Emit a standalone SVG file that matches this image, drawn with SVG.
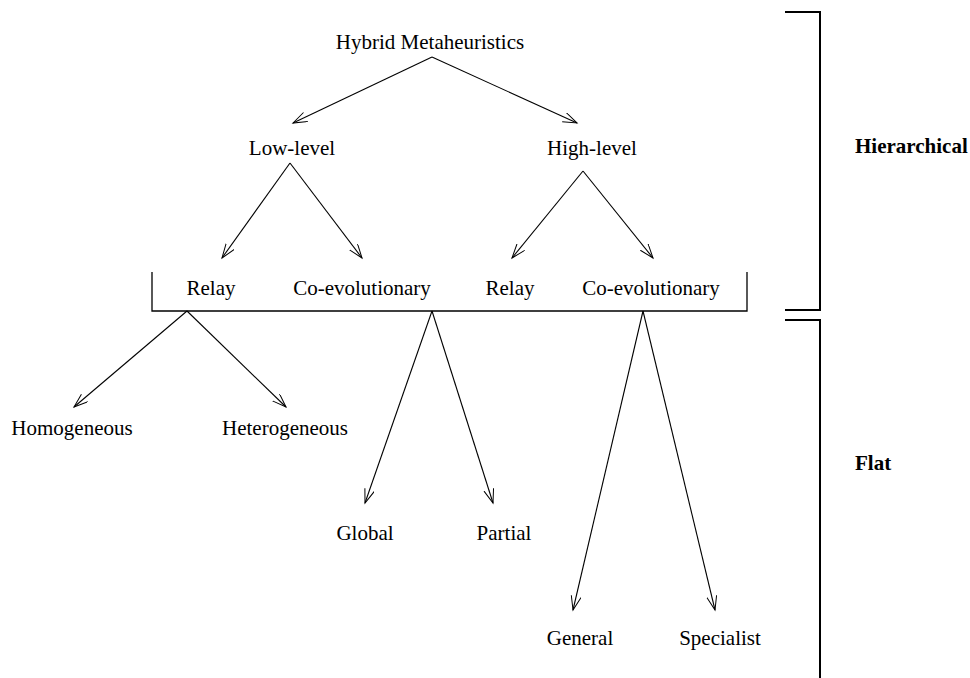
<svg xmlns="http://www.w3.org/2000/svg" width="970" height="678" viewBox="0 0 970 678">
<defs>
<marker id="ah" markerUnits="userSpaceOnUse" markerWidth="16" markerHeight="12" refX="14" refY="5" orient="auto">
<path d="M0,0 L14,5 L0,10" fill="none" stroke="#000" stroke-width="1"/>
</marker>
<style>
text{font-family:"Liberation Serif","Times New Roman",serif;font-size:21px;fill:#000}
.b{font-weight:bold}
.c{text-anchor:middle}
.e{stroke:#000;stroke-width:1.1;fill:none;marker-end:url(#ah)}
.l{stroke:#000;stroke-width:1.3;fill:none}
.k{stroke:#000;stroke-width:2;fill:none}
</style>
</defs>
<rect width="970" height="678" fill="#fff"/>
<g id="connectors">
<line class="e" x1="432" y1="57" x2="293" y2="123"/>
<line class="e" x1="432" y1="57" x2="577" y2="123"/>
<line class="e" x1="290" y1="163" x2="222" y2="258"/>
<line class="e" x1="290" y1="163" x2="362" y2="258"/>
<line class="e" x1="583" y1="171" x2="512" y2="258"/>
<line class="e" x1="583" y1="171" x2="653" y2="258"/>
<line class="e" x1="187" y1="311" x2="74" y2="407"/>
<line class="e" x1="187" y1="311" x2="286" y2="407"/>
<line class="e" x1="432" y1="311" x2="365" y2="503"/>
<line class="e" x1="432" y1="311" x2="493" y2="503"/>
<line class="e" x1="643" y1="311" x2="573" y2="610"/>
<line class="e" x1="643" y1="311" x2="715" y2="610"/>
</g>
<g id="root"><text class="c" x="430" y="49">Hybrid Metaheuristics</text></g>
<g id="lowlevel"><text class="c" x="292" y="155">Low-level</text></g>
<g id="highlevel"><text class="c" x="592" y="155">High-level</text></g>
<g id="group-bar"><polyline class="l" points="152,272 152,311 747,311 747,272"/></g>
<g id="relay1"><text class="c" x="211" y="295">Relay</text></g>
<g id="coevo1"><text class="c" x="362" y="295">Co-evolutionary</text></g>
<g id="relay2"><text class="c" x="510" y="295">Relay</text></g>
<g id="coevo2"><text class="c" x="651" y="295">Co-evolutionary</text></g>
<g id="homogeneous"><text class="c" x="72" y="435">Homogeneous</text></g>
<g id="heterogeneous"><text class="c" x="285" y="435">Heterogeneous</text></g>
<g id="global"><text class="c" x="365" y="540">Global</text></g>
<g id="partial"><text class="c" x="504" y="540">Partial</text></g>
<g id="general"><text class="c" x="580" y="645">General</text></g>
<g id="specialist"><text class="c" x="720" y="645">Specialist</text></g>
<g id="hierarchical"><polyline class="k" points="785,12 820,12 820,310 785,310"/><text class="b" x="855" y="153">Hierarchical</text></g>
<g id="flat"><polyline class="k" points="785,320 820,320 820,678"/><text class="b" x="855" y="470">Flat</text></g>
</svg>
